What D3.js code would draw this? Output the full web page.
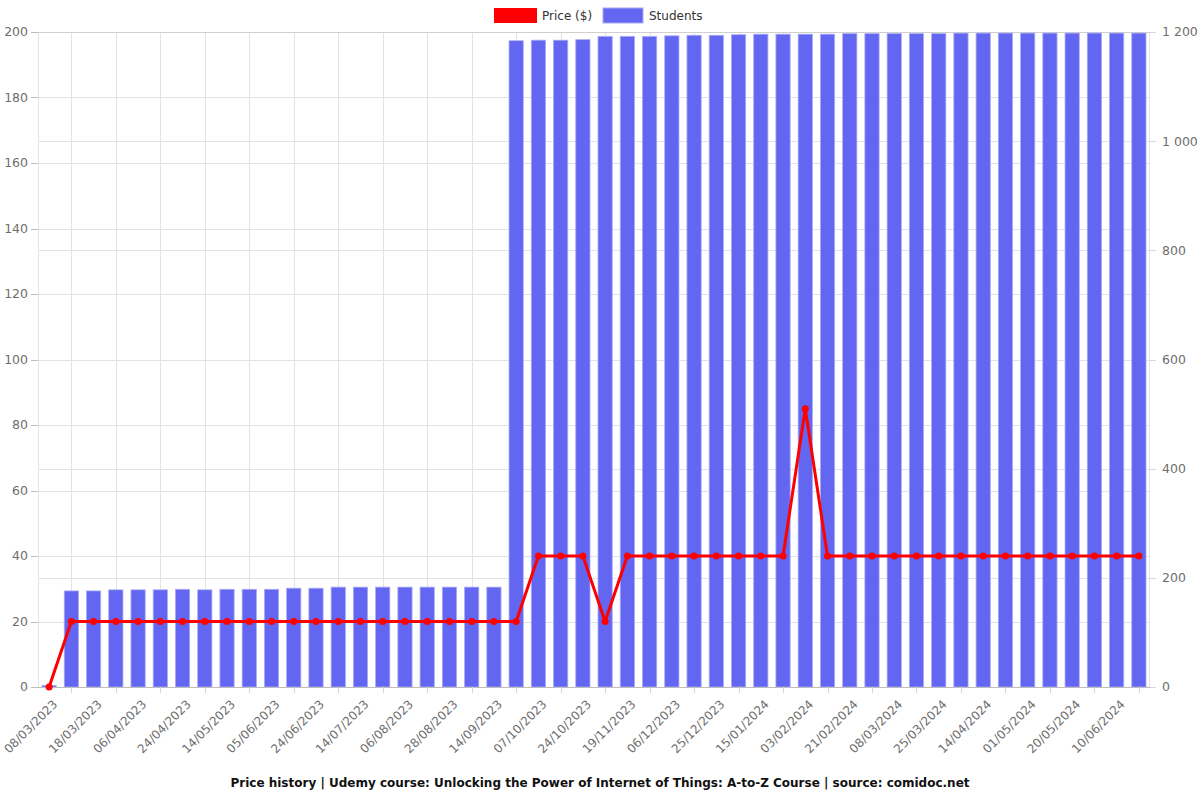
<!DOCTYPE html>
<html><head><meta charset="utf-8">
<script src="https://cdn.jsdelivr.net/npm/d3@7"></script>
<style>body{margin:0;background:#fff}svg{display:block;font-family:"DejaVu Sans",sans-serif}</style>
</head><body><svg id="c" width="1200" height="800"></svg>
<script>
const dates = ["08/03/2023","13/03/2023","18/03/2023","28/03/2023","06/04/2023","15/04/2023","24/04/2023","04/05/2023","14/05/2023","25/05/2023","05/06/2023","15/06/2023","24/06/2023","04/07/2023","14/07/2023","25/07/2023","06/08/2023","17/08/2023","28/08/2023","05/09/2023","14/09/2023","25/09/2023","07/10/2023","15/10/2023","24/10/2023","05/11/2023","19/11/2023","27/11/2023","06/12/2023","15/12/2023","25/12/2023","05/01/2024","15/01/2024","24/01/2024","03/02/2024","12/02/2024","21/02/2024","29/02/2024","08/03/2024","16/03/2024","25/03/2024","04/04/2024","14/04/2024","22/04/2024","01/05/2024","10/05/2024","20/05/2024","30/05/2024","10/06/2024","18/06/2024"];
const price = [0,19.99,19.99,19.99,19.99,19.99,19.99,19.99,19.99,19.99,19.99,19.99,19.99,19.99,19.99,19.99,19.99,19.99,19.99,19.99,19.99,19.99,39.99,39.99,39.99,19.99,39.99,39.99,39.99,39.99,39.99,39.99,39.99,39.99,84.99,39.99,39.99,39.99,39.99,39.99,39.99,39.99,39.99,39.99,39.99,39.99,39.99,39.99,39.99,39.99];
const students = [3,176,176,178,178,178,179,178,179,179,179,181,181,183,183,183,183,183,183,183,183,1184,1185,1185,1186,1192,1192,1192,1193,1194,1194,1195,1196,1196,1196,1196,1197,1197,1197,1197,1197,1198,1198,1198,1198,1198,1198,1198,1198,1198];
const leftTicks = [0,20,40,60,80,100,120,140,160,180,200];
const rightTicks = [0,200,400,600,800,1000,1200];
const title = "Price history | Udemy course: Unlocking the Power of Internet of Things: A-to-Z Course | source: comidoc.net";

const svg = d3.select("#c");
const L = 38, R = 1150, T = 32, B = 687;
const x = d3.scaleBand().domain(dates).range([L, R]).padding(0);
const bw = x.bandwidth();
const cx = d => x(d) + bw / 2;
const yL = d3.scaleLinear().domain([0, 200]).range([B, T]);
const yR = d3.scaleLinear().domain([0, 1200]).range([B, T]);
const fmtR = d3.formatLocale({decimal: ".", thousands: " ", grouping: [3], currency: ["", ""]}).format(",d");

const grid = svg.append("g").attr("stroke", "#e3e3e3").attr("stroke-width", 1);
leftTicks.forEach(t => grid.append("line").attr("x1", L).attr("x2", R).attr("y1", Math.round(yL(t)) + 0.5).attr("y2", Math.round(yL(t)) + 0.5));
rightTicks.forEach(t => grid.append("line").attr("x1", L).attr("x2", R).attr("y1", Math.round(yR(t)) + 0.5).attr("y2", Math.round(yR(t)) + 0.5));
grid.append("line").attr("x1", L + 0.5).attr("x2", L + 0.5).attr("y1", T).attr("y2", B);
grid.append("line").attr("x1", R - 0.5).attr("x2", R - 0.5).attr("y1", T).attr("y2", B);
dates.forEach((d, i) => { if (i % 2 === 1) grid.append("line").attr("x1", Math.round(cx(d)) + 0.5).attr("x2", Math.round(cx(d)) + 0.5).attr("y1", T).attr("y2", B); });
svg.append("line").attr("x1", L).attr("x2", R).attr("y1", T + 0.5).attr("y2", T + 0.5).attr("stroke", "#cfcfcf");

// bars
const barW = bw * 0.64;
svg.append("g").selectAll("rect").data(students).join("rect")
  .attr("x", (v, i) => cx(dates[i]) - barW / 2)
  .attr("width", barW)
  .attr("y", v => yR(v))
  .attr("height", v => B - yR(v))
  .attr("fill", "#6366f1")
  .attr("stroke", "#a9abf6").attr("stroke-width", 0.8);

// bottom axis
svg.append("line").attr("x1", L).attr("x2", R).attr("y1", B + 0.5).attr("y2", B + 0.5).attr("stroke", "#bdbdbd");
dates.forEach((d, i) => {
  if (i % 2 === 1) svg.append("line").attr("x1", Math.round(cx(d)) + 0.5).attr("x2", Math.round(cx(d)) + 0.5).attr("y1", B).attr("y2", B + 6).attr("stroke", "#d6d6d6");
});
svg.append("g").selectAll("text").data(dates.filter((d, i) => i % 2 === 0)).join("text")
  .attr("transform", d => `translate(${cx(d) + 6},${B + 15}) rotate(-45)`)
  .attr("text-anchor", "end").attr("dy", "0.35em")
  .attr("font-size", 12).attr("fill", "#6e6e6e").text(d => d);

// left axis
const la = svg.append("g");
leftTicks.forEach(t => {
  la.append("line").attr("x1", L - 7).attr("x2", L).attr("y1", Math.round(yL(t)) + 0.5).attr("y2", Math.round(yL(t)) + 0.5).attr("stroke", "#bdbdbd");
  la.append("text").attr("x", L - 10).attr("y", yL(t)).attr("dy", "0.35em").attr("text-anchor", "end").attr("font-size", 12.5).attr("fill", "#6e6e6e").text(t);
});
// right axis
const ra = svg.append("g");
rightTicks.forEach(t => {
  ra.append("line").attr("x1", R).attr("x2", R + 6).attr("y1", Math.round(yR(t)) + 0.5).attr("y2", Math.round(yR(t)) + 0.5).attr("stroke", "#d6d6d6");
  ra.append("text").attr("x", R + 12).attr("y", yR(t)).attr("dy", "0.35em").attr("text-anchor", "start").attr("font-size", 12.5).attr("fill", "#6e6e6e").text(fmtR(t));
});

// price line
const line = d3.line().x((v, i) => cx(dates[i])).y(v => yL(v));
svg.append("path").datum(price).attr("d", line).attr("fill", "none").attr("stroke", "#ff0000").attr("stroke-width", 3).attr("stroke-linejoin", "round");
svg.append("g").selectAll("circle").data(price).join("circle")
  .attr("cx", (v, i) => cx(dates[i])).attr("cy", v => yL(v)).attr("r", 3.5).attr("fill", "#ff0000");

// legend
const lg = svg.append("g").attr("font-size", 12).attr("fill", "#333");
lg.append("rect").attr("x", 494).attr("y", 8).attr("width", 43).attr("height", 15).attr("fill", "#ff0000");
lg.append("text").attr("x", 542).attr("y", 16).attr("dy", "0.35em").text("Price ($)");
lg.append("rect").attr("x", 603).attr("y", 8).attr("width", 40).attr("height", 15).attr("fill", "#6366f1").attr("stroke", "#a9abf6");
lg.append("text").attr("x", 649).attr("y", 16).attr("dy", "0.35em").text("Students");

// title
svg.append("text").attr("x", 600).attr("y", 783).attr("dy", "0.35em").attr("text-anchor", "middle")
  .attr("font-size", 12).attr("font-weight", "bold").attr("fill", "#111").text(title);
</script></body></html>
